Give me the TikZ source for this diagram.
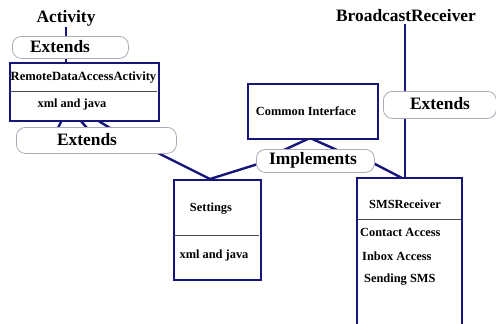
\documentclass[tikz,border=0pt]{standalone}
\usepackage{fontspec}
\setmainfont{Liberation Serif}
\definecolor{navy}{RGB}{22,22,122}
\definecolor{extgray}{RGB}{170,170,185}
\begin{document}
\begin{tikzpicture}[x=1pt,y=-1pt,
  conn/.style={draw=navy,line width=2.4pt},
  umlbox/.style={draw=navy,line width=2.4pt,fill=white,inner sep=0pt,anchor=north west},
  extbox/.style={draw=extgray,line width=0.8pt,fill=white,rounded corners=9pt,inner sep=0pt,anchor=north west},
  divider/.style={draw=black!70,line width=0.7pt},
  bigtxt/.style={font=\bfseries\fontsize{17.4}{17}\selectfont,inner sep=0pt},
  smalltxt/.style={font=\bfseries\fontsize{12.4}{12}\selectfont,inner sep=0pt}]
\useasboundingbox (0,0) rectangle (496,324);
% coordinates for connectors
\coordinate (stop) at (210,179);
\coordinate (e2r) at (158,153);
\coordinate (impll) at (258,164);
\coordinate (implr) at (373,163);
\coordinate (smstop) at (402,178);
\coordinate (citop) at (310,138);
\coordinate (i1) at (284,150);
\coordinate (i2) at (337,150);
\coordinate (r1) at (62,120);\coordinate (r1b) at (58,128);
\coordinate (r2) at (80,120);\coordinate (r2b) at (87,128);
\coordinate (r3) at (97,120);\coordinate (r3b) at (110,128);
% texts at top
\node[bigtxt] (activity) at (66,18) {Activity};
\node[bigtxt] (br) at (406,16) {BroadcastReceiver};
% connectors
\draw[conn] (66,27) -- (66,64);
\draw[conn] (405,24) -- (405,180);
\draw[conn] (r1) -- (r1b);
\draw[conn] (r2) -- (r2b);
\draw[conn] (r3) -- (r3b);
\draw[conn] (e2r) -- (stop) -- (impll);
\draw[conn] (i1) -- (citop) -- (i2);
\draw[conn] (implr) -- (smstop);
% extends boxes
\node[extbox,minimum width=116pt,minimum height=22pt] (ext1) at (12,36) {};
\node[bigtxt] (ext1t) at (60,47) {Extends};
\node[extbox,minimum width=160pt,minimum height=26pt] (ext2) at (16,127) {};
\node[bigtxt] (ext2t) at (87,140) {Extends};
\node[extbox,minimum width=113pt,minimum height=27pt] (ext3) at (383,91) {};
\node[bigtxt] (ext3t) at (440,104) {Extends};
% RemoteDataAccessActivity
\node[umlbox,minimum width=149pt,minimum height=58pt] (rdaa) at (9,62) {};
\draw[divider] (10.2,91) -- (156.8,91);
\node[smalltxt,font=\bfseries\fontsize{12.6}{12}\selectfont] (rdaat) at (83.5,77) {RemoteDataAccessActivity};
\node[smalltxt] (rdaax) at (72,105) {xml and java};
% Common interface
\node[umlbox,minimum width=130pt,minimum height=55pt] (ci) at (247,83) {};
\node[smalltxt] (cit) at (306,111) {Common Interface};
% Implements
\node[extbox,minimum width=118pt,minimum height=23pt] (impl) at (256,149) {};
\node[bigtxt] (implt) at (313,160) {Implements};
% Settings
\node[umlbox,minimum width=87pt,minimum height=100pt] (settings) at (173,179) {};
\draw[divider] (174.2,235) -- (258.8,235);
\node[smalltxt] (sett) at (211,209) {Settings};
\node[smalltxt] (setx) at (214,256) {xml and java};
% SMSReceiver
\path[fill=white] (357,178) rectangle (462,330);
\draw[draw=navy,line width=2.4pt] (357,330) -- (357,178) -- (462,178) -- (462,330);
\coordinate (sms) at (409,250);
\draw[divider] (358.2,219) -- (460.8,219);
\node[smalltxt] (smst) at (405,204) {SMSReceiver};
\node[smalltxt,anchor=west] (ca) at (360,232) {Contact Access};
\node[smalltxt,anchor=west] (ia) at (362,256) {Inbox Access};
\node[smalltxt,anchor=west] (ss) at (364,280) {Sending SMS};
\end{tikzpicture}
\end{document}
